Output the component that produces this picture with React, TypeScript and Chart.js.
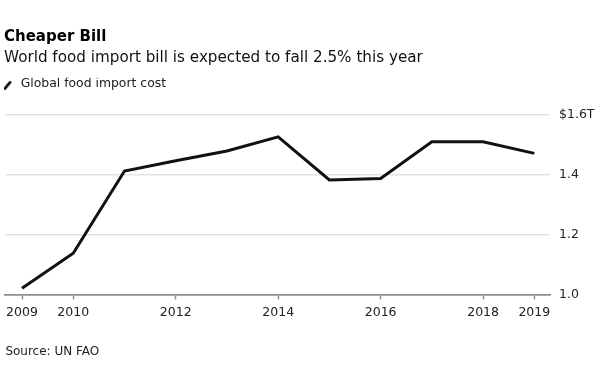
import React, { useEffect, useRef } from "react";
import { Chart, registerables } from "chart.js";

Chart.register(...registerables);

const TITLE = "Cheaper Bill";
const SUBTITLE = "World food import bill is expected to fall 2.5% this year";
const SERIES_LABEL = "Global food import cost";
const SOURCE = "Source: UN FAO";

const years = [2009, 2010, 2011, 2012, 2013, 2014, 2015, 2016, 2017, 2018, 2019];
const importCost = [1.021, 1.138, 1.413, 1.447, 1.48, 1.527, 1.383, 1.388, 1.511, 1.511, 1.472];
const xTickYears = [2009, 2010, 2012, 2014, 2016, 2018, 2019];
const yTickValues = [1.0, 1.2, 1.4, 1.6];
const yTickLabels = ["1.0", "1.2", "1.4", "$1.6T"];

const FONT = "'DejaVu Sans', sans-serif";

function makeSlash(): HTMLCanvasElement {
  const c = document.createElement("canvas");
  c.width = 12;
  c.height = 14;
  const g = c.getContext("2d")!;
  g.strokeStyle = "#111";
  g.lineWidth = 2.8;
  g.lineCap = "round";
  g.beginPath();
  g.moveTo(1.6, 11.6);
  g.lineTo(6.8, 5.4);
  g.stroke();
  return c;
}

export default function App() {
  const ref = useRef<HTMLCanvasElement | null>(null);

  useEffect(() => {
    if (!ref.current) return;
    const slash = makeSlash();
    const chart = new Chart(ref.current, {
      type: "line",
      data: {
        datasets: [
          {
            label: SERIES_LABEL,
            data: years.map((y, i) => ({ x: y, y: importCost[i] })),
            borderColor: "#111",
            backgroundColor: "#111",
            borderWidth: 3,
            pointRadius: 0,
            tension: 0,
            fill: false,
          },
        ],
      },
      options: {
        responsive: false,
        animation: false,
        devicePixelRatio: 1,
        layout: { padding: { left: 4, right: 0, top: 0, bottom: 0 } },
        plugins: {
          title: {
            display: true,
            text: TITLE,
            align: "start",
            color: "#000",
            font: { family: FONT, size: 15, weight: "bold", lineHeight: 1.2 },
            padding: { top: 28.5, bottom: 2 },
          },
          subtitle: {
            display: true,
            text: SUBTITLE,
            align: "start",
            color: "#111",
            font: { family: FONT, size: 15.2, weight: "normal", lineHeight: 1.2 },
            padding: { top: 0, bottom: 11 },
          },
          legend: {
            display: true,
            position: "top",
            align: "start",
            labels: {
              usePointStyle: true,
              pointStyle: slash as any,
              pointStyleWidth: 10.5,
              padding: 0,
              color: "#222",
              font: { family: FONT, size: 12.4 },
            },
          },
          tooltip: { enabled: false },
        },
        scales: {
          x: {
            type: "linear",
            position: "bottom",
            min: 2008.675,
            max: 2019.306,
            afterBuildTicks: (axis: any) => {
              axis.ticks = xTickYears.map((v) => ({ value: v }));
            },
            afterFit: (axis: any) => {
              axis.height = 81.5;
            },
            ticks: {
              padding: 6,
              color: "#222",
              autoSkip: false,
              maxRotation: 0,
              font: { family: FONT, size: 12.5, lineHeight: 1.2 },
              callback: (v: any) => String(v),
            },
            grid: {
              drawOnChartArea: false,
              drawTicks: true,
              tickLength: 5,
              tickColor: "#8f8f8f",
              tickWidth: 1.5,
            },
            border: { display: true, color: "#8f8f8f", width: 1.8 },
            title: {
              display: true,
              text: SOURCE,
              align: "start",
              color: "#222",
              font: { family: FONT, size: 12, lineHeight: 1.2 },
              padding: { top: 24, bottom: 17 },
            },
          },
          y: {
            type: "linear",
            position: "right",
            min: 1.0,
            max: 1.65,
            afterBuildTicks: (axis: any) => {
              axis.ticks = yTickValues.map((v) => ({ value: v }));
            },
            afterFit: (axis: any) => {
              axis.width = 50;
            },
            ticks: {
              padding: 9,
              color: "#222",
              font: { family: FONT, size: 12.5, lineHeight: 1.2 },
              callback: (v: any) => {
                const i = yTickValues.findIndex((t) => Math.abs(t - v) < 1e-9);
                return i >= 0 ? yTickLabels[i] : "";
              },
            },
            grid: {
              drawTicks: false,
              lineWidth: 1.5,
              color: (ctx: any) =>
                ctx.tick && Math.abs(ctx.tick.value - 1.0) < 1e-9 ? "rgba(0,0,0,0)" : "#e3e3e3",
            },
            border: { display: false },
          },
        },
      },
    });
    return () => chart.destroy();
  }, []);

  return (
    <div style={{ position: "fixed", left: 0, top: 0, width: 600, height: 376, background: "#fff" }}>
      <canvas ref={ref} width={600} height={376} style={{ width: 600, height: 376, display: "block" }} />
    </div>
  );
}
